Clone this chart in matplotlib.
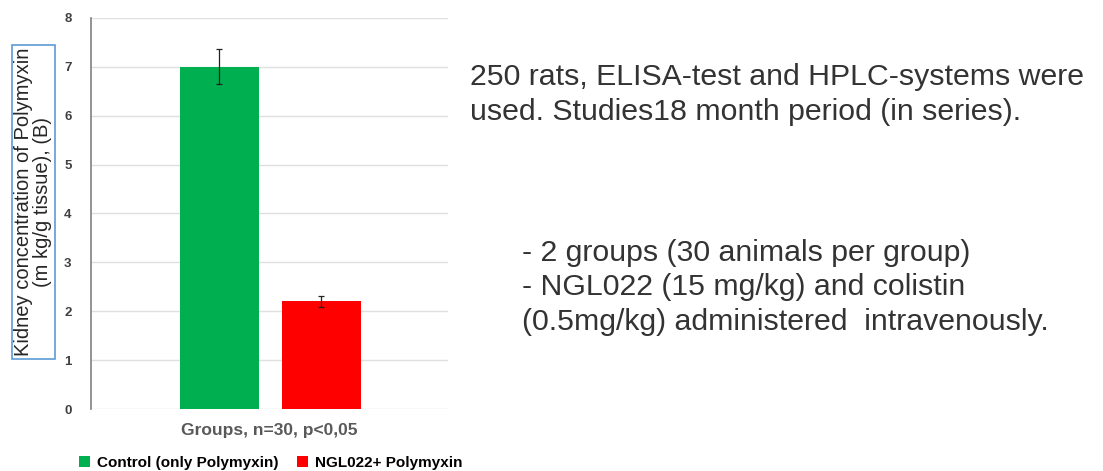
import matplotlib
matplotlib.use("Agg")
import matplotlib.pyplot as plt
from matplotlib.patches import Patch

groups = ["Control (only Polymyxin)", "NGL022+ Polymyxin"]
values = [7.0, 2.2]
errors = [0.36, 0.12]
colors = ["#00b050", "#ff0000"]
yticks = [0, 1, 2, 3, 4, 5, 6, 7, 8]

plt.rcParams["font.family"] = ["Liberation Sans", "DejaVu Sans"]

fig = plt.figure(figsize=(11.03, 4.71), dpi=100)
ax = fig.add_axes([0.0825, 0.1316, 0.3235, 0.8304])

pos = [0, 1]
ax.bar(pos, values, width=0.775, color=colors, zorder=2)
ax.errorbar(pos, values, yerr=errors, fmt="none", ecolor="#222222",
            elinewidth=0.9, capsize=2.5, capthick=0.9, zorder=3)

ax.set_xlim(-1.26, 2.24)
ax.set_ylim(0, 8)
ax.set_yticks(yticks)
ax.set_yticklabels([str(t) for t in yticks], fontsize=9.5, fontweight="bold",
                   color="#404040")
ax.set_xticks([])
ax.yaxis.grid(True, color="#e0e0e0", linewidth=1, zorder=0)
ax.tick_params(axis="y", length=0, pad=14)
for s in ["top", "right", "bottom"]:
    ax.spines[s].set_visible(False)
ax.spines["left"].set_color("#808080")
ax.spines["left"].set_linewidth(1.2)

ax.set_xlabel("Groups, n=30, p<0,05", fontsize=12.5, fontweight="bold",
              color="#595959", labelpad=10)

fig.text(0.030, 0.571, "Kidney concentration of Polymyxin\n(m kg/g tissue), (B)",
         rotation=90, ha="center", va="center", fontsize=14.5,
         color="#262626", linespacing=1.0,
         bbox=dict(boxstyle="square,pad=0.12", facecolor="white",
                   edgecolor="#5b9bd5", linewidth=1.2))

handles = [Patch(facecolor=c, edgecolor="none") for c in colors]
fig.legend(handles, groups, loc="lower left", bbox_to_anchor=(0.059, -0.027),
           ncol=2, frameon=False, handlelength=0.7,
           handleheight=0.7, columnspacing=1.2, handletextpad=0.5,
           prop={"weight": "bold", "size": 11})

fig.text(0.426, 0.800, "250 rats, ELISA-test and HPLC-systems were\n"
         "used. Studies18 month period (in series).",
         ha="left", va="center", fontsize=21.8, color="#333333",
         linespacing=1.3)
fig.text(0.473, 0.390, "- 2 groups (30 animals per group)\n"
         "- NGL022 (15 mg/kg) and colistin\n"
         "(0.5mg/kg) administered  intravenously.",
         ha="left", va="center", fontsize=21.8, color="#333333",
         linespacing=1.3)

fig.savefig("out.png", dpi=100)
